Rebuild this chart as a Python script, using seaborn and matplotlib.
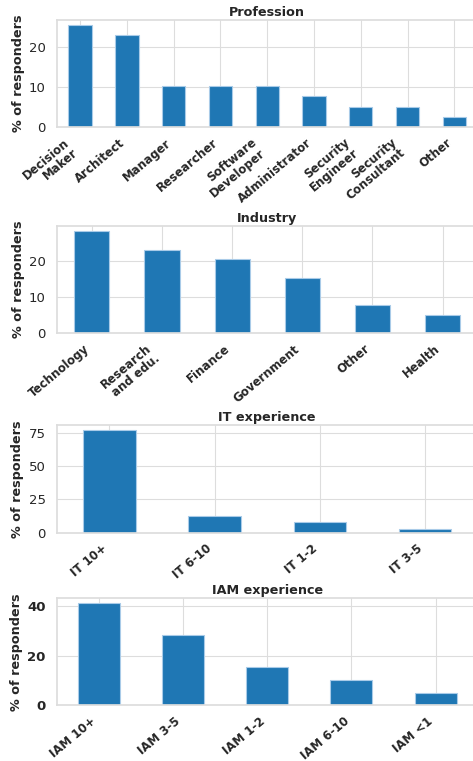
import pandas as pd
import matplotlib
matplotlib.use("Agg")
import matplotlib.pyplot as plt
import seaborn as sns

sns.set_theme(style="whitegrid")
plt.rcParams["font.family"] = ["DejaVu Sans"]

profession = ["Decision\nMaker", "Architect", "Manager", "Researcher", "Software\nDeveloper",
              "Administrator", "Security\nEngineer", "Security\nConsultant", "Other"]
profession_pct = [25.6, 23.1, 10.3, 10.3, 10.3, 7.7, 5.1, 5.1, 2.6]

industry = ["Technology", "Research\nand edu.", "Finance", "Government", "Other", "Health"]
industry_pct = [28.2, 23.1, 20.5, 15.4, 7.7, 5.1]

it_exp = ["IT 10+", "IT 6-10", "IT 1-2", "IT 3-5"]
it_exp_pct = [76.9, 12.8, 7.7, 2.6]

iam_exp = ["IAM 10+", "IAM 3-5", "IAM 1-2", "IAM 6-10", "IAM <1"]
iam_exp_pct = [41.0, 28.2, 15.4, 10.3, 5.1]

panels = [
    ("Profession", profession, profession_pct, (0.833, 0.974)),
    ("Industry", industry, industry_pct, (0.562, 0.703)),
    ("IT experience", it_exp, it_exp_pct, (0.300, 0.4415)),
    ("IAM experience", iam_exp, iam_exp_pct, (0.073, 0.214)),
]

fig = plt.figure(figsize=(4.73, 7.61), dpi=100)
left, right = 0.1200, 1.010

for title, cats, vals, (b, t) in panels:
    ax = fig.add_axes([left, b, right - left, t - b])
    df = pd.DataFrame({"cat": cats, "pct": vals})
    sns.barplot(data=df, x="cat", y="pct", ax=ax, color="#1f77b4", saturation=1,
                width=0.5, edgecolor="#a9cbe8", linewidth=0.8)
    ax.set_xlim(-0.5, len(cats) - 0.5)
    ax.set_ylim(0, max(vals) * 1.05)
    ax.set_title(title, fontsize=9.2, fontweight="bold", pad=3)
    ax.set_xlabel("")
    ax.set_ylabel("% of responders", fontsize=9.2, fontweight="bold", labelpad=3)
    ax.set_xticks(range(len(cats)))
    ax.set_xticklabels(cats, rotation=40, ha="right",
                       fontsize=8.5, fontweight="bold", linespacing=1.0)
    ax.tick_params(axis="y", labelsize=9.5, pad=2)
    ax.tick_params(axis="x", pad=0.5)
    if title == "IAM experience":
        for lbl in ax.get_yticklabels():
            lbl.set_fontweight("bold")
    ax.grid(True, color="#dddddd", linewidth=0.8)
    for s in ax.spines.values():
        s.set_color("#dddddd")
    ax.set_axisbelow(True)

fig.savefig("out.png", dpi=100)
